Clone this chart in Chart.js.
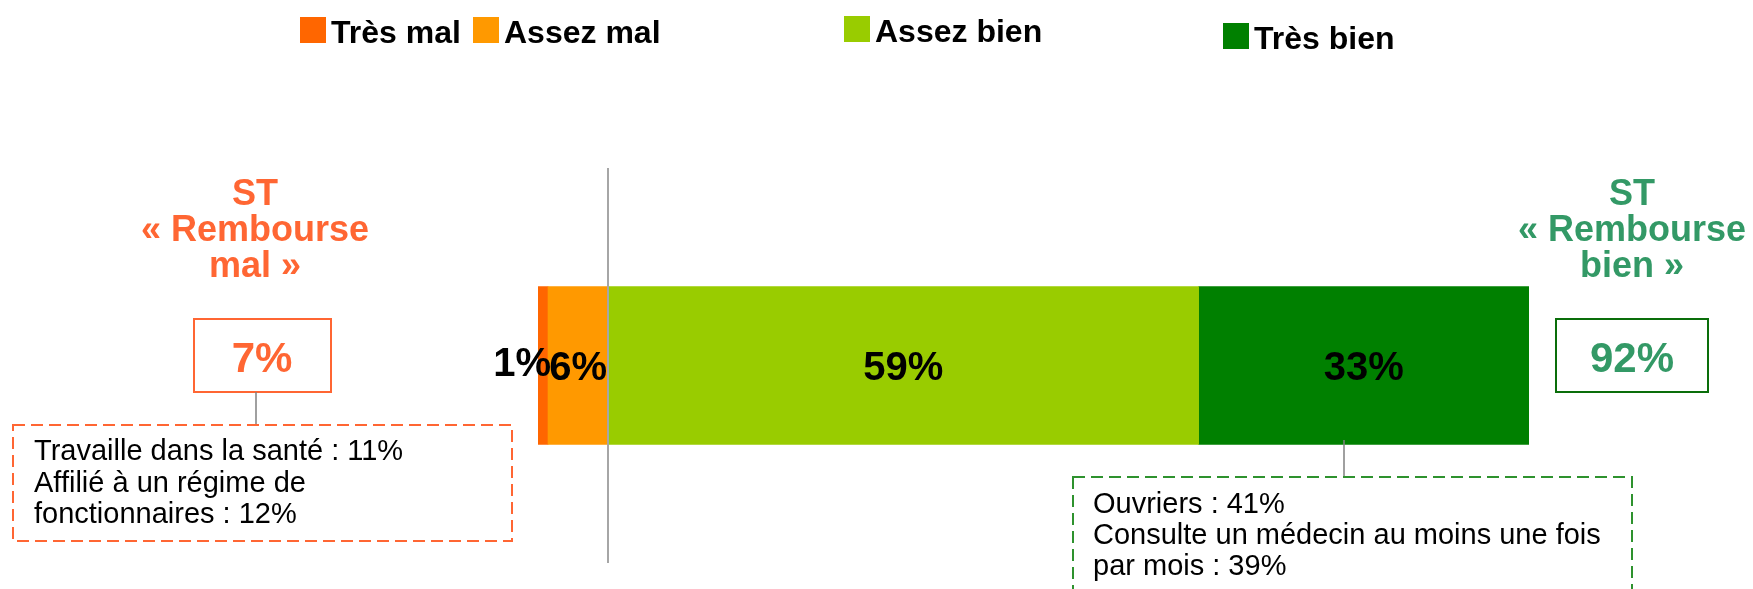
<!DOCTYPE html>
<html><head><meta charset="utf-8">
<script src="https://cdn.jsdelivr.net/npm/chart.js@4/dist/chart.umd.min.js"></script>
<style>html,body{margin:0;padding:0;background:#fff;}#wrap{position:relative;width:1753px;height:589px;}</style>
</head><body><div id="wrap"><canvas id="c"></canvas></div>
<script>
// ---- data ----
const categories = ['Très mal', 'Assez mal', 'Assez bien', 'Très bien'];
const values = [1, 6, 59, 33];
const sides = [-1, -1, 1, 1];            // "mal" answers sit left of zero
const colors = ['#FF6600', '#FF9900', '#99CC00', '#008000'];
const leftTitle = ['ST', '« Rembourse', 'mal »'];
const rightTitle = ['ST', '« Rembourse', 'bien »'];
const leftNotes = ['Travaille dans la santé : 11%', 'Affilié à un régime de', 'fonctionnaires : 12%'];
const rightNotes = ['Ouvriers : 41%', 'Consulte un médecin au moins une fois', 'par mois : 39%'];

// ---- derived ----
const totalMal = values.reduce((s, v, i) => s + (sides[i] < 0 ? v : 0), 0);
const totalBien = values.reduce((s, v, i) => s + (sides[i] > 0 ? v : 0), 0);
// stacking order: closest to zero first on each side
const stackOrder = [1, 0, 2, 3];
const datasets = stackOrder.map(i => ({
  label: categories[i],
  data: [sides[i] * values[i]],
  backgroundColor: colors[i],
  borderWidth: 0,
  barThickness: 158,
  catIndex: i
}));

const FONT = '"Liberation Sans", Arial, Helvetica, sans-serif';
const legendPos = [[300, 17], [473, 17], [844, 16], [1223, 23]];
const ORANGE = '#FF6633', GREEN_T = '#339966';

const overlay = {
  id: 'overlay',
  afterDatasetsDraw(chart) {
    const ctx = chart.ctx, xs = chart.scales.x, area = chart.chartArea;
    ctx.save();
    // zero line
    const x0 = Math.round(xs.getPixelForValue(0));
    ctx.strokeStyle = '#A6A6A6'; ctx.lineWidth = 2;
    ctx.beginPath(); ctx.moveTo(x0, area.top); ctx.lineTo(x0, area.bottom); ctx.stroke();

    // bar value labels
    ctx.fillStyle = '#000'; ctx.font = 'bold 40px ' + FONT; ctx.textBaseline = 'alphabetic';
    chart.data.datasets.forEach((ds, di) => {
      const el = chart.getDatasetMeta(di).data[0];
      const v = Math.abs(ds.data[0]);
      const txt = v + '%';
      const yb = el.y + 14;
      if (v < 3) {
        ctx.textAlign = 'right';
        ctx.fillText(txt, Math.max(el.x, el.base) + 3, yb - 4);
      } else {
        ctx.textAlign = 'center';
        ctx.fillText(txt, (el.x + el.base) / 2, yb);
      }
    });

    // legend
    ctx.textAlign = 'left';
    ctx.font = 'bold 32px ' + FONT;
    categories.forEach((c, i) => {
      const [lx, ly] = legendPos[i];
      ctx.fillStyle = colors[i]; ctx.fillRect(lx, ly, 26, 26);
      ctx.fillStyle = '#000'; ctx.fillText(c, lx + 31, ly + 26);
    });

    // side titles
    ctx.textAlign = 'center'; ctx.font = 'bold 36px ' + FONT;
    ctx.fillStyle = ORANGE;
    leftTitle.forEach((t, k) => ctx.fillText(t, 255, 205 + k * 36));
    ctx.fillStyle = GREEN_T;
    rightTitle.forEach((t, k) => ctx.fillText(t, 1632, 205 + k * 36));

    // total boxes
    ctx.lineWidth = 2;
    ctx.strokeStyle = ORANGE; ctx.strokeRect(194, 319, 137, 73);
    ctx.strokeStyle = '#0A6E0A'; ctx.strokeRect(1556, 319, 152, 73);
    ctx.font = 'bold 42px ' + FONT;
    ctx.fillStyle = ORANGE; ctx.fillText(totalMal + '%', 262, 372);
    ctx.fillStyle = GREEN_T; ctx.fillText(totalBien + '%', 1632, 372);

    // connectors
    ctx.strokeStyle = '#808080'; ctx.lineWidth = 1.5;
    ctx.beginPath(); ctx.moveTo(256, 392); ctx.lineTo(256, 425); ctx.stroke();
    ctx.beginPath(); ctx.moveTo(1344, 440); ctx.lineTo(1344, 477); ctx.stroke();

    // dashed note boxes
    ctx.setLineDash([12, 6]); ctx.lineWidth = 2;
    ctx.strokeStyle = ORANGE; ctx.strokeRect(13, 425, 499, 116);
    ctx.strokeStyle = '#2E922E'; ctx.strokeRect(1073, 477, 559, 140);
    ctx.setLineDash([]);

    ctx.textAlign = 'left'; ctx.fillStyle = '#000'; ctx.font = '29px ' + FONT;
    leftNotes.forEach((t, k) => ctx.fillText(t, 34, 460 + k * 31.5));
    rightNotes.forEach((t, k) => ctx.fillText(t, 1093, 513 + k * 31));
    ctx.restore();
  }
};

new Chart(document.getElementById('c'), {
  type: 'bar',
  data: { labels: [''], datasets },
  options: {
    indexAxis: 'y',
    responsive: true,
    maintainAspectRatio: false,
    animation: false,
    layout: { padding: { left: 538, right: 224, top: 168, bottom: 26 } },
    scales: {
      x: { display: false, stacked: true, min: -totalMal, max: totalBien },
      y: { display: false, stacked: true }
    },
    plugins: { legend: { display: false }, tooltip: { enabled: false }, title: { display: false } }
  },
  plugins: [overlay]
});
</script>
</body></html>
